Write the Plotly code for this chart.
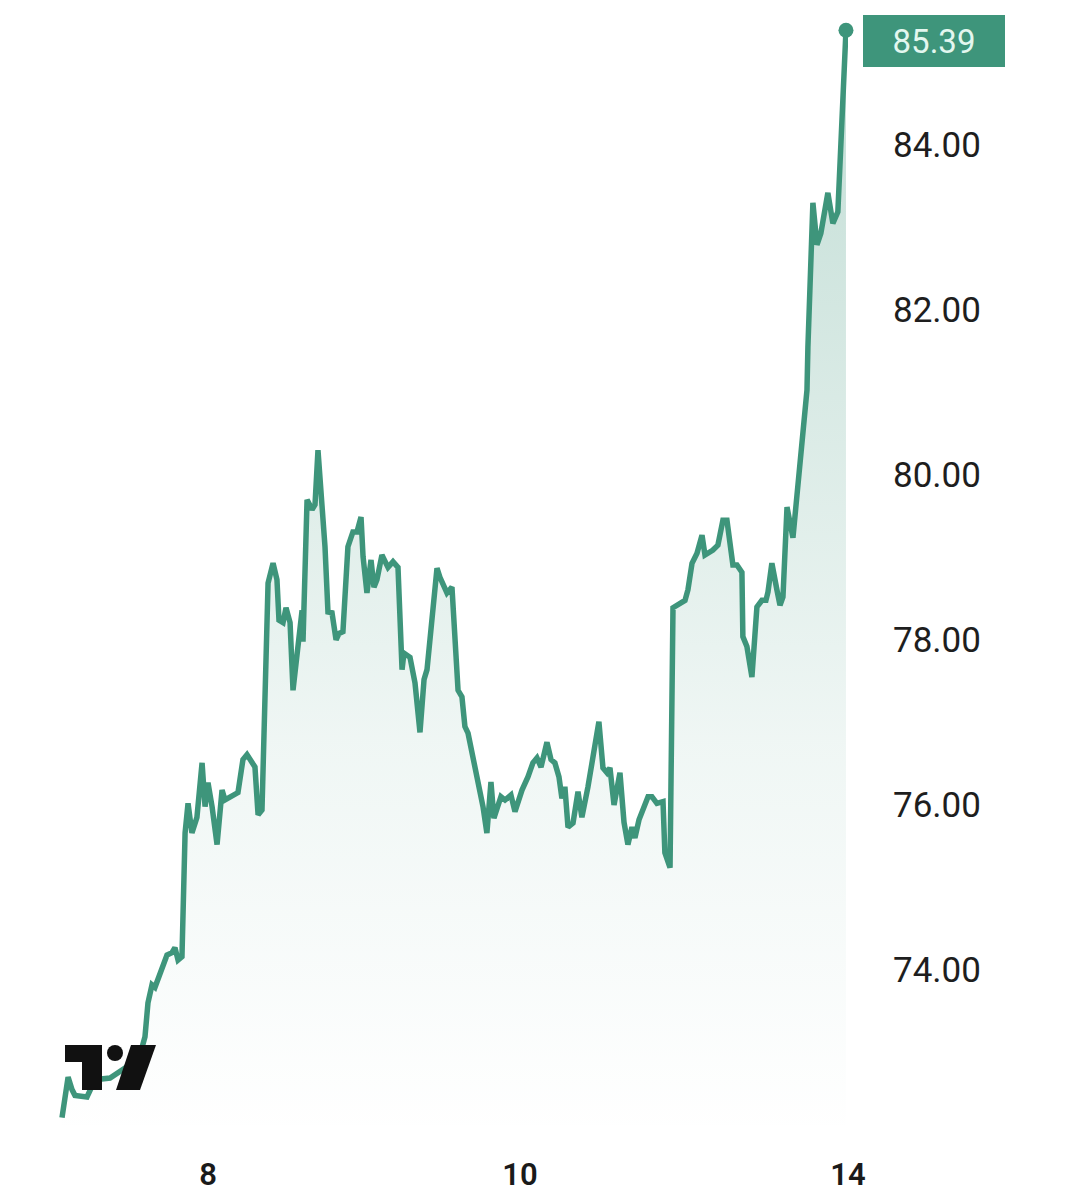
import plotly.graph_objects as go

# session position (trading-day units) and price
session = [
    7.064, 7.103, 7.128, 7.147, 7.224, 7.276, 7.372, 7.468, 7.564, 7.596, 7.615, 7.641,
    7.660, 7.705, 7.737, 7.769, 7.788, 7.808, 7.833, 7.853, 7.872, 7.897,
    7.929, 7.962, 7.981, 8.000, 8.026, 8.058, 8.090, 8.109, 8.141, 8.192,
    8.224, 8.250, 8.301, 8.321, 8.346, 8.385, 8.417, 8.442, 8.455, 8.481,
    8.500, 8.526, 8.545, 8.577, 8.603, 8.609, 8.635, 8.667, 8.686, 8.705,
    8.731, 8.750, 8.769, 8.795, 8.821, 8.840, 8.865, 8.897, 8.929, 8.955,
    8.981, 8.994, 9.019, 9.045, 9.064, 9.083, 9.115, 9.135, 9.154, 9.186,
    9.218, 9.244, 9.256, 9.295, 9.327, 9.359, 9.385, 9.404, 9.468, 9.487,
    9.532, 9.564, 9.583, 9.603, 9.628, 9.647, 9.667, 9.699, 9.731, 9.763,
    9.788, 9.814, 9.833, 9.853, 9.878, 9.904, 9.942, 9.968, 10.013, 10.051,
    10.083, 10.109, 10.135, 10.173, 10.199, 10.224, 10.250, 10.269, 10.288, 10.308,
    10.340, 10.372, 10.397, 10.436, 10.481, 10.506, 10.532, 10.558, 10.577, 10.603,
    10.641, 10.667, 10.692, 10.718, 10.737, 10.763, 10.821, 10.846, 10.878, 10.917,
    10.929, 10.962, 10.981, 11.026, 11.058, 11.077, 11.103, 11.135, 11.167, 11.186,
    11.237, 11.269, 11.301, 11.327, 11.365, 11.391, 11.423, 11.429, 11.455, 11.487,
    11.519, 11.551, 11.577, 11.590, 11.615, 11.647, 11.667, 11.686, 11.712, 11.750,
    11.782, 11.814, 11.840, 11.846, 11.878, 11.904, 11.929, 11.974, 12.006, 12.038,
    12.090,
]
price = [
    72.21, 72.70, 72.55, 72.48, 72.46, 72.67, 72.69, 72.81, 72.97, 73.19, 73.60, 73.82,
    73.79, 74.00, 74.18, 74.21, 74.27, 74.12, 74.16, 75.66, 76.02, 75.66,
    75.85, 76.51, 75.98, 76.27, 75.98, 75.52, 76.18, 76.06, 76.10, 76.15,
    76.55, 76.61, 76.46, 75.88, 75.94, 78.69, 78.93, 78.73, 78.24, 78.21,
    78.39, 78.21, 77.39, 77.96, 78.36, 77.98, 79.70, 79.58, 79.64, 80.30,
    79.73, 79.13, 78.34, 78.33, 78.00, 78.08, 78.10, 79.13, 79.31, 79.31,
    79.49, 79.01, 78.57, 78.97, 78.64, 78.73, 79.03, 78.93, 78.88, 78.95,
    78.88, 77.64, 77.84, 77.79, 77.48, 76.88, 77.52, 77.64, 78.87, 78.76,
    78.57, 78.64, 78.04, 77.39, 77.31, 76.95, 76.87, 76.58, 76.27, 75.98,
    75.66, 76.28, 75.84, 75.94, 76.10, 76.06, 76.12, 75.92, 76.18, 76.34,
    76.51, 76.57, 76.46, 76.76, 76.55, 76.51, 76.34, 76.08, 76.22, 75.73,
    75.78, 76.16, 75.85, 76.22, 76.70, 77.01, 76.45, 76.39, 76.45, 76.00,
    76.39, 75.79, 75.52, 75.73, 75.60, 75.82, 76.10, 76.10, 76.02, 76.04,
    75.42, 75.24, 78.39, 78.45, 78.48, 78.61, 78.93, 79.05, 79.27, 79.03,
    79.09, 79.15, 79.45, 79.45, 78.91, 78.91, 78.82, 78.04, 77.92, 77.55,
    78.40, 78.48, 78.48, 78.58, 78.93, 78.61, 78.42, 78.52, 79.61, 79.24,
    79.90, 80.42, 81.03, 81.55, 83.30, 82.79, 82.93, 83.42, 83.05, 83.19,
    85.39,
]

y_ticks = [74, 76, 78, 80, 82, 84]
x_tick_vals = [8, 10, 12.103]
x_tick_text = ["8", "10", "14"]
last_price_text = "85.39"

LINE = "#3e957b"
FONT = "Roboto"

fig = go.Figure()
fig.add_trace(go.Scatter(
    x=session, y=price, mode="lines",
    line=dict(color=LINE, width=5.5),
    fill="tozeroy",
    fillgradient=dict(
        type="vertical",
        colorscale=[[0, "rgba(62,149,123,0.0)"], [0.35, "rgba(62,149,123,0.08)"],
                    [1, "rgba(62,149,123,0.32)"]],
        start=72.0, stop=85.4,
    ),
    hoverinfo="skip", showlegend=False, cliponaxis=True,
))
fig.add_trace(go.Scatter(
    x=[session[-1]], y=[price[-1]], mode="markers",
    marker=dict(color=LINE, size=15), showlegend=False, cliponaxis=False,
))

W, H = 1076, 1204
L, R, T, B = 50, 228, 10, 74
pw, ph = W - L - R, H - T - B


def px(x):
    return (x - L) / pw


def py(y):
    return (H - B - y) / ph


logo = "#111111"
fig.add_shape(type="path", xref="paper", yref="paper", layer="above",
              path=f"M {px(65)} {py(1045)} L {px(102)} {py(1045)} L {px(102)} {py(1090)} "
                   f"L {px(82)} {py(1090)} L {px(82)} {py(1062)} L {px(65)} {py(1062)} Z",
              fillcolor=logo, line=dict(width=0))
fig.add_shape(type="circle", xref="paper", yref="paper", layer="above",
              x0=px(107), x1=px(123), y0=py(1061), y1=py(1045),
              fillcolor=logo, line=dict(width=0))
fig.add_shape(type="path", xref="paper", yref="paper", layer="above",
              path=f"M {px(131)} {py(1045)} L {px(156)} {py(1045)} L {px(140)} {py(1090)} "
                   f"L {px(116)} {py(1090)} Z",
              fillcolor=logo, line=dict(width=0))

fig.add_annotation(
    x=px(863), xref="paper", xanchor="left",
    y=price[-1], yref="y", yanchor="middle", yshift=-11,
    text=last_price_text, showarrow=False,
    width=138, height=48, borderpad=1, align="center",
    bgcolor=LINE, bordercolor=LINE,
    font=dict(family=FONT, size=33, color="#e3f7ef"),
)

fig.update_layout(
    width=W, height=H, autosize=False,
    margin=dict(l=L, r=R, t=T, b=B),
    paper_bgcolor="white", plot_bgcolor="white",
    font=dict(family=FONT, color="#1e1e1e"),
    xaxis=dict(range=[6.987, 12.103], showgrid=False, zeroline=False,
               showline=False, tickvals=x_tick_vals, ticktext=x_tick_text,
               ticks="", ticklabelstandoff=23, automargin=False,
               tickfont=dict(family=FONT, size=31, color="#1a1a1a", weight=600)),
    yaxis=dict(range=[72.06, 85.636], side="right", showgrid=False,
               zeroline=False, showline=False, tickvals=y_ticks,
               tickformat=".2f", ticks="", ticklabelstandoff=44, automargin=False,
               tickfont=dict(family=FONT, size=35, color="#1e1e1e")),
)

fig.write_html("out.html")
